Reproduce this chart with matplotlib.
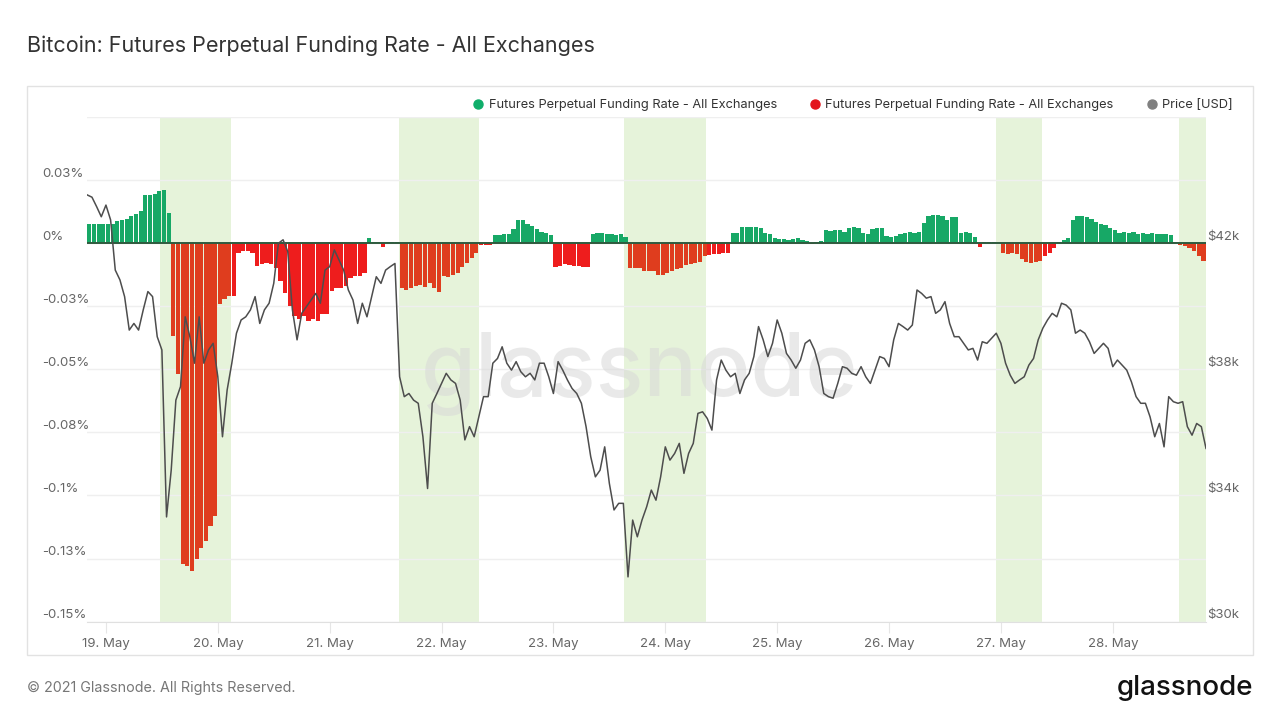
import numpy as np
import matplotlib.pyplot as plt
from matplotlib.patches import Rectangle
from matplotlib.lines import Line2D

plt.rcParams['font.family'] = ['Inter', 'DejaVu Sans']

# Hourly samples, first one at 18 May 20:00 UTC
# Funding rate in % (one value per hour, 240 hours)
funding_rate = [
    0.0074, 0.0074, 0.0074, 0.0074, 0.0074, 0.0074, 0.0085, 0.009, 0.0095, 0.0105, 0.0115, 0.0125,
    0.019, 0.019, 0.0195, 0.0205, 0.021, 0.012, -0.037, -0.052, -0.127, -0.128, -0.130, -0.125,
    -0.121, -0.118, -0.112, -0.108, -0.024, -0.022, -0.021, -0.021, -0.004, -0.003, -0.003, -0.004,
    -0.009, -0.0085, -0.008, -0.0085, -0.010, -0.015, -0.020, -0.025, -0.029, -0.030, -0.029, -0.031,
    -0.030, -0.031, -0.028, -0.028, -0.019, -0.018, -0.018, -0.017, -0.014, -0.013, -0.013, -0.012,
    0.002, 0.0005, 0.0003, -0.0016, 0.0003, 0.0002, 0.0003, -0.018, -0.0185, -0.018, -0.017, -0.0165,
    -0.0175, -0.016, -0.018, -0.0195, -0.013, -0.0135, -0.0125, -0.012, -0.0095, -0.008, -0.006, -0.004,
    -0.0008, -0.001, -0.0008, 0.003, 0.0033, 0.0036, 0.0036, 0.0055, 0.0091, 0.009, 0.0075, 0.0068,
    0.0055, 0.0045, 0.0038, 0.003, -0.0094, -0.009, -0.0085, -0.0088, -0.009, -0.0092, -0.0094, -0.0094,
    0.0035, 0.004, 0.0038, 0.0035, 0.0036, 0.0033, 0.0035, 0.0025, -0.010, -0.010, -0.010, -0.011,
    -0.011, -0.011, -0.0125, -0.0125, -0.012, -0.011, -0.0105, -0.010, -0.0087, -0.0085, -0.008, -0.0075,
    -0.005, -0.0047, -0.0045, -0.0045, -0.004, -0.004, 0.0038, 0.004, 0.0065, 0.0065, 0.0063, 0.0062,
    0.006, 0.0038, 0.0036, 0.002, 0.0015, 0.0015, 0.0012, 0.0015, 0.0018, 0.0012, 0.0006, -0.0004,
    0.0003, 0.0006, 0.005, 0.0048, 0.005, 0.0052, 0.0045, 0.006, 0.0062, 0.0058, 0.0038, 0.0036,
    0.0055, 0.006, 0.0058, 0.0028, 0.0025, 0.0028, 0.0035, 0.004, 0.0042, 0.004, 0.0045, 0.008,
    0.0108, 0.011, 0.011, 0.0105, 0.009, 0.0104, 0.0104, 0.004, 0.0045, 0.004, 0.0025, -0.0015,
    0.0002, 0.0002, 0.0002, 0.0001, -0.004, -0.0042, -0.0041, -0.0043, -0.0065, -0.0075, -0.0078, -0.0075,
    -0.0072, -0.005, -0.004, -0.002, 0.0002, 0.0012, 0.0018, 0.009, 0.0108, 0.0107, 0.0104, 0.0095,
    0.0082, 0.0075, 0.007, 0.006, 0.005, 0.004, 0.0045, 0.0038, 0.0042, 0.0035, 0.0038, 0.0036,
    0.0038, 0.0035, 0.0036, 0.0034, 0.003, 0.0005, -0.0009, -0.0012, -0.002, -0.003, -0.005, -0.007,
]

# BTC price in USD (hourly, 241 points)
price_usd = [
    43520, 43450, 43150, 42830, 43200, 42730, 41140, 40830, 40300, 39240, 39450, 39240,
    39880, 40460, 40300, 39030, 38610, 33320, 34800, 37020, 37450, 39660, 39030, 38190,
    39660, 38190, 38610, 38820, 37760, 35860, 37340, 38190, 39140, 39560, 39660, 39880,
    40300, 39450, 39880, 40090, 40720, 41990, 42100, 41730, 39880, 38930, 39770, 39980,
    40190, 40400, 40090, 41140, 41250, 41780, 41460, 41140, 40510, 40190, 39450, 40090,
    39660, 40300, 40930, 40720, 41140, 41250, 41350, 37760, 37130, 37230, 37020, 36920,
    35860, 34220, 36920, 37230, 37550, 37870, 37660, 37550, 37020, 35760, 36180, 35860,
    36490, 37130, 37130, 38190, 38340, 38710, 38190, 37970, 38240, 37920, 37760, 37870,
    37660, 38190, 38190, 37760, 37230, 38240, 37970, 37660, 37390, 37230, 36920, 36180,
    35230, 34590, 34800, 35540, 34380, 33540, 33750, 33750, 31420, 33220, 32690, 33220,
    33640, 34170, 33850, 34590, 35540, 35120, 35330, 35650, 34700, 35330, 35650, 36600,
    36650, 36440, 36070, 37660, 38290, 37970, 37760, 37870, 37230, 37660, 37870, 38400,
    39350, 38930, 38400, 38820, 39560, 39140, 38500, 38290, 38030, 38290, 38820, 38930,
    38610, 38080, 37230, 37130, 37080, 37550, 38080, 38030, 37870, 37810, 38080, 37760,
    37550, 37970, 38400, 38340, 38080, 38930, 39450, 39350, 39240, 39400, 40510, 40400,
    40250, 40300, 39770, 39880, 40140, 39450, 39030, 39030, 38820, 38610, 38660, 38290,
    38870, 38820, 38980, 39140, 38820, 38190, 37810, 37550, 37660, 37760, 38130, 38340,
    38930, 39300, 39560, 39770, 39660, 40090, 40030, 39880, 39140, 39240, 39140, 38870,
    38500, 38660, 38820, 38660, 38080, 38290, 38130, 37970, 37600, 37130, 36920, 36920,
    36490, 35860, 36280, 35540, 37130, 36970, 36920, 36970, 36180, 35910, 36280, 36180,
    35490,
]

# Highlighted periods (hours since 18 May 20:00)
band_ranges = [(15.5, 30.8), (66.8, 84.1), (115.1, 132.7), (194.9, 204.9), (234.2, 240.0)]

day_labels = ["19. May", "20. May", "21. May", "22. May", "23. May",
              "24. May", "25. May", "26. May", "27. May", "28. May"]
day_hours = [4, 28, 52, 76, 100, 124, 148, 172, 196, 220]

left_ticks = [0.05, 0.025, 0.0, -0.025, -0.05, -0.075, -0.1, -0.125, -0.15]
left_labels = ["", "0.03%", "0%", "-0.03%", "-0.05%", "-0.08%", "-0.1%", "-0.13%", "-0.15%"]
right_ticks = [42000, 38000, 34000, 30000]
right_labels = ["$42k", "$38k", "$34k", "$30k"]

GREEN = "#17a866"
RED = "#ee1d1d"
RED_BAND = "#df3d1e"
BAND = "#e6f3da"
GRID = "#efefef"
TEXT = "#666666"

fig = plt.figure(figsize=(12.8, 7.2), dpi=100)
W, H = 1280, 720
ax = fig.add_axes([87.3 / W, 1 - 621.7 / H, 1118.7 / W, 505 / H])

# chart frame
fig.patches.append(Rectangle((27 / W, 1 - 655 / H), 1226 / W, 569 / H, transform=fig.transFigure,
                             fill=False, edgecolor="#e2e2e2", linewidth=1))

for start, end in band_ranges:
    ax.axvspan(start, end, color=BAND, linewidth=0, zorder=0)

ax.text(0.494, 0.49, "glassnode", transform=ax.transAxes, ha="center", va="center",
        fontsize=64, color="#d8d8d8", alpha=0.55, zorder=1, fontweight="medium")

hours = np.arange(len(funding_rate))
rates = np.array(funding_rate)


def in_band(h):
    return any(s <= h + 0.5 <= e for s, e in band_ranges)


colors = [GREEN if r >= 0 else (RED_BAND if in_band(h) else RED) for h, r in zip(hours, rates)]
ax.bar(hours, rates, width=0.9, align="edge", color=colors, linewidth=0, zorder=2)
ax.axhline(0, color="#2f5a3e", linewidth=1.4, zorder=3)

ax.set_xlim(0, 240)
ax.set_ylim(-0.15, 0.05)
ax.set_yticks(left_ticks)
ax.set_yticklabels([])
ax.tick_params(axis="y", length=0)
ax.grid(axis="y", color=GRID, linewidth=1)
ax.set_axisbelow(True)
for s in ["top", "right", "left"]:
    ax.spines[s].set_visible(False)
ax.spines["bottom"].set_color("#e0e0e0")

ax.set_xticks(day_hours)
ax.set_xticklabels(day_labels, fontsize=9.5, color=TEXT)
ax.tick_params(axis="x", length=8, color="#e6e6e6", pad=4)

for val, lab in zip(left_ticks, left_labels):
    ax.annotate(lab, xy=(-45.3 / 1118.7, val), xycoords=ax.get_yaxis_transform(),
                xytext=(0, 4.5), textcoords="offset points", ha="left", va="center",
                fontsize=9.5, color=TEXT)

ax2 = ax.twinx()
ax2.plot(np.arange(len(price_usd)), price_usd, color="#4d4d4d", linewidth=1.1, zorder=4)
ax2.set_ylim(30000, 46000)
ax2.set_yticks([])
for s in ax2.spines.values():
    s.set_visible(False)
for val, lab in zip(right_ticks, right_labels):
    ax2.annotate(lab, xy=(1.0, val), xycoords=ax2.get_yaxis_transform(),
                 xytext=(1, 4.5), textcoords="offset points", ha="left", va="center",
                 fontsize=9.5, color=TEXT)

# legend
handles = [
    Line2D([], [], marker="o", linestyle="", color="#0fae6a", markersize=6.5),
    Line2D([], [], marker="o", linestyle="", color="#e3151c", markersize=6.5),
    Line2D([], [], marker="o", linestyle="", color="#808080", markersize=6.5),
]
names = ["Futures Perpetual Funding Rate - All Exchanges",
         "Futures Perpetual Funding Rate - All Exchanges",
         "Price [USD]"]
fig.legend(handles, names, loc="center right", bbox_to_anchor=(1238 / W, 1 - 105 / H), ncol=3,
           frameon=False, fontsize=9.2, handlelength=0.8, handletextpad=0.4, columnspacing=2.6,
           labelcolor="#333333", borderaxespad=0)

fig.text(27 / W, 1 - 46 / H, "Bitcoin: Futures Perpetual Funding Rate - All Exchanges",
         fontsize=15.5, color="#333333", ha="left", va="center")
fig.text(27 / W, 1 - 688 / H, "\u00a9 2021 Glassnode. All Rights Reserved.",
         fontsize=10.3, color="#777777", ha="left", va="center")
fig.text(1253 / W, 1 - 688 / H, "glassnode", fontsize=20, color="#111111",
         ha="right", va="center", fontweight="medium")

fig.savefig("out.png", dpi=100, facecolor="white")
